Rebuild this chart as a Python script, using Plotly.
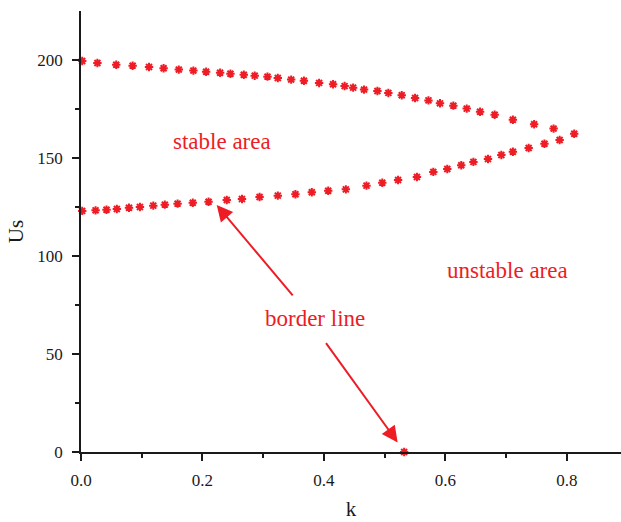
import plotly.graph_objects as go

# Upper border branch
upper_k = [0.002, 0.027, 0.058, 0.085, 0.112, 0.136, 0.161, 0.185, 0.206, 0.229,
           0.246, 0.268, 0.286, 0.307, 0.324, 0.346, 0.367, 0.392, 0.415, 0.434,
           0.448, 0.466, 0.488, 0.506, 0.528, 0.550, 0.572, 0.591, 0.613, 0.635,
           0.657, 0.681, 0.711, 0.746, 0.778, 0.812]
upper_us = [199.5, 198.5, 197.6, 197.1, 196.4, 195.8, 195.1, 194.6, 194.0, 193.5,
            193.0, 192.5, 192.0, 191.5, 190.8, 190.0, 189.4, 188.3, 187.6, 186.7,
            185.9, 184.9, 184.2, 183.2, 182.0, 180.6, 179.4, 177.9, 176.7, 175.2,
            173.6, 172.1, 169.5, 167.2, 165.0, 162.4]

# Lower border branch
lower_k = [0.002, 0.024, 0.042, 0.059, 0.079, 0.097, 0.119, 0.138, 0.159, 0.184,
           0.210, 0.240, 0.265, 0.294, 0.324, 0.353, 0.380, 0.407, 0.436, 0.470,
           0.496, 0.522, 0.553, 0.580, 0.603, 0.626, 0.646, 0.670, 0.692, 0.711,
           0.737, 0.763, 0.788]
lower_us = [123.0, 123.3, 123.6, 124.0, 124.6, 125.0, 125.7, 126.2, 126.7, 127.2,
            127.7, 128.6, 129.1, 130.1, 130.8, 131.5, 132.5, 133.3, 134.0, 135.9,
            137.4, 138.8, 140.3, 142.9, 144.4, 146.3, 148.0, 149.5, 151.5, 153.2,
            155.1, 157.3, 159.2]

# Isolated border point on the k axis
point_k = [0.532]
point_us = [0.0]

RED = "#ee1c25"
FONT = "Liberation Serif, Times New Roman, serif"

marker = dict(symbol="asterisk-open", size=7, color=RED,
              line=dict(color=RED, width=2))

fig = go.Figure()
for xs, ys in [(upper_k, upper_us), (lower_k, lower_us), (point_k, point_us)]:
    fig.add_trace(go.Scatter(x=xs, y=ys, mode="markers", marker=marker,
                             showlegend=False, cliponaxis=False))

labels = [
    dict(x=0.2316, y=158.2, text="stable area"),
    dict(x=0.7029, y=92.5, text="unstable area"),
    dict(x=0.385, y=67.9, text="border line"),
]
for a in labels:
    fig.add_annotation(x=a["x"], y=a["y"], text=a["text"], showarrow=False,
                       font=dict(family=FONT, size=23, color=RED))

arrows = [
    dict(x=0.2234, y=126.0, ax=0.3506, ay=79.2),
    dict(x=0.5213, y=4.9, ax=0.4016, ay=56.3),
]
for a in arrows:
    fig.add_annotation(x=a["x"], y=a["y"], ax=a["ax"], ay=a["ay"],
                       xref="x", yref="y", axref="x", ayref="y", text="",
                       showarrow=True, arrowhead=2, arrowsize=1.6,
                       arrowwidth=2, arrowcolor=RED)

axis_common = dict(
    showline=True, linecolor="#1a1a1a", linewidth=1.5,
    ticks="outside", ticklen=7, tickwidth=1.5, tickcolor="#1a1a1a",
    showgrid=False, zeroline=False, mirror=False, automargin=False,
    tickfont=dict(family=FONT, size=17, color="#1a1a1a"),
)

fig.update_xaxes(
    range=[0, 0.889], tickvals=[0, 0.2, 0.4, 0.6, 0.8], tickformat=".1f",
    minor=dict(tickvals=[0.1, 0.3, 0.5, 0.7], ticks="outside", ticklen=4,
               tickwidth=1.5, tickcolor="#1a1a1a"),
    ticklabelstandoff=5,
    title=dict(text="k", font=dict(family=FONT, size=21, color="#1a1a1a"),
               standoff=12),
    **axis_common,
)
fig.update_yaxes(
    range=[0, 225], tickvals=[0, 50, 100, 150, 200],
    minor=dict(tickvals=[25, 75, 125, 175], ticks="outside", ticklen=4,
               tickwidth=1.5, tickcolor="#1a1a1a"),
    ticklabelstandoff=6,
    title=dict(text="Us", font=dict(family=FONT, size=21, color="#1a1a1a"),
               standoff=8),
    **axis_common,
)

fig.update_layout(
    width=621, height=522,
    margin=dict(l=81, r=0, t=11, b=70),
    plot_bgcolor="white", paper_bgcolor="white",
    font=dict(family=FONT),
)

fig.write_html("out.html", config={"displayModeBar": False},
               post_script="document.body.style.margin='0';document.body.style.overflow='hidden';")
